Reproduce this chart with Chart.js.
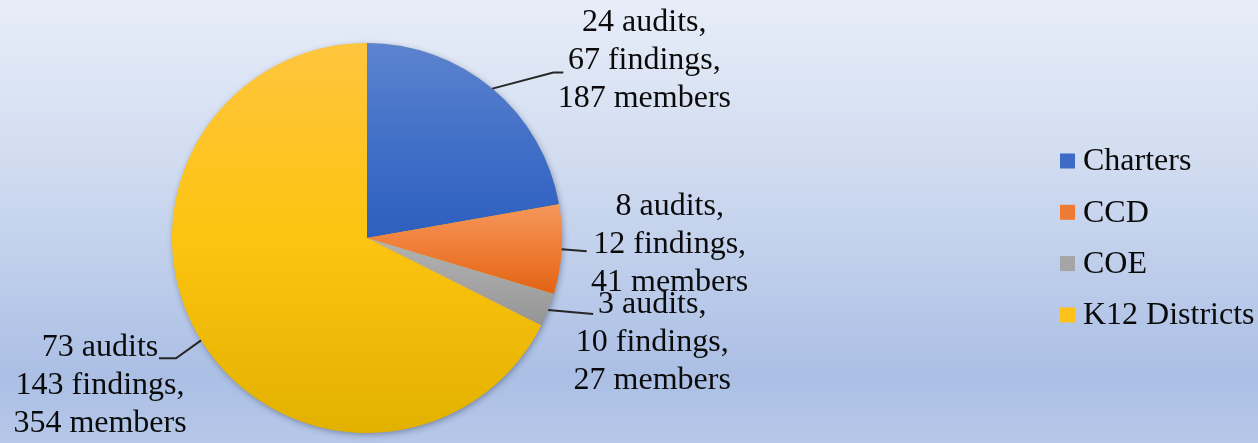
<!DOCTYPE html>
<html>
<head>
<meta charset="utf-8">
<script src="https://cdn.jsdelivr.net/npm/chart.js@4.4.1/dist/chart.umd.min.js"></script>
<style>
  html,body{margin:0;padding:0;background:#d0dcf0;}
  #wrap{width:1258px;height:443px;position:relative;}
</style>
</head>
<body>
<div id="wrap"><canvas id="myChart" width="1258" height="443"></canvas></div>
<script>
const categories=['Charters','CCD','COE','K12 Districts'];
const audits=[24,8,3,73];
const findings=[67,12,10,143];
const members=[187,41,27,354];
const auditComma=[',',',',',',''];

// gradient stops per slice (top, middle, bottom of the slice itself)
const sliceColors=[
  ['#5c83ce','#4270c8','#2d5fbf'],
  ['#f5975c','#ef7d36','#e26314'],
  ['#b2b2b2','#a5a5a5','#959595'],
  ['#ffc53e','#fdc410','#e2b100']
];
const legendColors=['#3d6bc5','#ee7a33','#a5a5a5','#fcc21a'];

// label placement relative to the slice's mid-angle point on the rim
const labelPos=[
  {tx:152,ty:-66,leader:[[61,-16],[71,-16]]},
  {tx:108,ty:-43,leader:[[25,2]]},
  {tx:104,ty:-5,leader:[[45,4]]},
  {tx:-101,ty:7,leader:[[-25,18],[-42,18]]}
];

const FONT='32px "Liberation Serif", "Times New Roman", serif';
const LINE_H=38;

// vertical extent of a slice, worked out from the data and chart area
function sliceExtent(chart,i){
  const area=chart.chartArea;
  const cx=(area.left+area.right)/2, cy=(area.top+area.bottom)/2;
  const r=Math.min(area.right-area.left,area.bottom-area.top)/2;
  const vals=chart.data.datasets[0].data;
  const total=vals.reduce((a,b)=>a+b,0);
  let start=-Math.PI/2;
  for(let k=0;k<i;k++) start+=vals[k]/total*Math.PI*2;
  const end=start+vals[i]/total*Math.PI*2;
  const ys=[cy,cy+Math.sin(start)*r,cy+Math.sin(end)*r];
  [Math.PI/2,Math.PI*1.5,Math.PI*2.5].forEach(a=>{
    if(a>start&&a<end) ys.push(cy+Math.sin(a)*r);
  });
  return [Math.min(...ys),Math.max(...ys)];
}

function sliceFill(ctx){
  const c=sliceColors[ctx.dataIndex];
  const chart=ctx.chart;
  if(!chart.chartArea) return c[1];
  const [y0,y1]=sliceExtent(chart,ctx.dataIndex);
  const g=chart.ctx.createLinearGradient(0,y0,0,y1);
  g.addColorStop(0,c[0]);
  g.addColorStop(0.5,c[1]);
  g.addColorStop(1,c[2]);
  return g;
}

const bgPlugin={
  id:'bg',
  beforeDraw(chart){
    const {ctx,width,height}=chart;
    const g=ctx.createLinearGradient(0,0,0,height);
    g.addColorStop(0,'#e7edf8');
    g.addColorStop(0.35,'#d2ddf1');
    g.addColorStop(0.85,'#abbfe5');
    g.addColorStop(1,'#b6c8e9');
    ctx.save();
    ctx.fillStyle=g;
    ctx.fillRect(0,0,width,height);
    ctx.restore();
  },
  beforeDatasetsDraw(chart){
    const arc=chart.getDatasetMeta(0).data[0];
    if(!arc) return;
    const {x,y,outerRadius}=arc.getProps(['x','y','outerRadius'],true);
    const ctx=chart.ctx;
    ctx.save();
    ctx.shadowColor='rgba(40,50,80,0.45)';
    ctx.shadowBlur=6;
    ctx.shadowOffsetX=1;
    ctx.shadowOffsetY=2;
    ctx.fillStyle='#e0b000';
    ctx.beginPath();
    ctx.arc(x,y,outerRadius-0.5,0,Math.PI*2);
    ctx.fill();
    ctx.restore();
  }
};

const labelPlugin={
  id:'sliceLabels',
  afterDatasetsDraw(chart){
    const ctx=chart.ctx;
    const meta=chart.getDatasetMeta(0);
    ctx.save();
    ctx.font=FONT;
    ctx.fillStyle='#0a0a0a';
    ctx.textAlign='center';
    ctx.textBaseline='middle';
    ctx.strokeStyle='#262626';
    ctx.lineWidth=2;
    meta.data.forEach((arc,i)=>{
      const p=arc.getProps(['x','y','startAngle','endAngle','outerRadius'],true);
      const mid=(p.startAngle+p.endAngle)/2;
      const ax=p.x+Math.cos(mid)*p.outerRadius;
      const ay=p.y+Math.sin(mid)*p.outerRadius;
      const lp=labelPos[i];
      ctx.beginPath();
      ctx.moveTo(ax,ay);
      lp.leader.forEach(pt=>ctx.lineTo(ax+pt[0],ay+pt[1]));
      ctx.stroke();
      const lines=[
        audits[i]+' audits'+auditComma[i],
        findings[i]+' findings,',
        members[i]+' members'
      ];
      lines.forEach((t,k)=>{
        ctx.fillText(t,ax+lp.tx,ay+lp.ty+k*LINE_H);
      });
    });
    ctx.restore();
  }
};

const legendPlugin={
  id:'sideLegend',
  afterDraw(chart){
    const ctx=chart.ctx;
    ctx.save();
    ctx.font=FONT;
    ctx.textAlign='left';
    ctx.textBaseline='middle';
    categories.forEach((c,i)=>{
      const cy=161+i*51.3;
      ctx.fillStyle=legendColors[i];
      ctx.fillRect(1060,cy-7.5,15,15);
      ctx.fillStyle='#0a0a0a';
      ctx.fillText(c,1083,cy+1);
    });
    ctx.restore();
  }
};

const myChart=new Chart(document.getElementById('myChart'),{
  type:'pie',
  data:{
    labels:categories,
    datasets:[{
      data:audits,
      backgroundColor:sliceFill,
      borderWidth:0
    }]
  },
  options:{
    responsive:false,
    animation:false,
    layout:{padding:{left:172,right:696,top:43,bottom:10}},
    plugins:{
      legend:{display:false},
      tooltip:{enabled:false}
    }
  },
  plugins:[bgPlugin,labelPlugin,legendPlugin]
});
</script>
</body>
</html>
